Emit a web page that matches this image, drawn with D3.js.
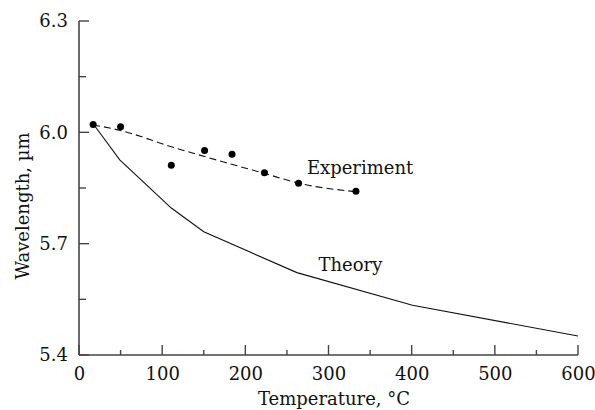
<!DOCTYPE html>
<html>
<head>
<meta charset="utf-8">
<script src="https://cdn.jsdelivr.net/npm/d3@7"></script>
<style>
  body { margin: 0; background: #fff; }
  text { font-family: "DejaVu Serif", serif; fill: #111; }
</style>
</head>
<body>
<div class="chart"></div>
<script>
var svgWidth = 595;
var svgHeight = 410;

var margin = { top: 21, right: 17, bottom: 55, left: 79 };
var width = svgWidth - margin.left - margin.right;
var height = svgHeight - margin.top - margin.bottom;

// measured points (dots)
var expTemp = [17, 50, 111, 151, 184, 223, 264, 333];
var expWave = [6.021, 6.015, 5.911, 5.951, 5.941, 5.891, 5.863, 5.841];

// dashed fit through the experiment
var fitTemp = [17, 50, 110, 174, 222, 264, 333];
var fitWave = [6.02, 6.005, 5.962, 5.92, 5.89, 5.863, 5.84];

// theory curve
var theoryTemp = [19, 49, 111, 150, 262, 401, 600];
var theoryWave = [6.017, 5.926, 5.796, 5.732, 5.622, 5.534, 5.451];

var xTicks = [0, 100, 200, 300, 400, 500, 600];
var xMinor = [50, 150, 250, 350, 450, 550];
var yTicks = [5.4, 5.7, 6.0, 6.3];
var yMinor = [5.55, 5.85, 6.15];

var svg = d3.select(".chart")
    .append("svg")
    .attr("width", svgWidth)
    .attr("height", svgHeight);

var chartGroup = svg.append("g")
    .attr("transform", `translate(${margin.left}, ${margin.top})`);

var x = d3.scaleLinear().domain([0, 600]).range([0, width]);
var y = d3.scaleLinear().domain([5.4, 6.3]).range([height, 0]);

var axisColor = "#444";

// bottom axis, ticks pointing up
var bottomAxis = d3.axisBottom(x).tickValues(xTicks).tickSize(0).tickPadding(12)
    .tickFormat(d3.format("d"));
var gx = chartGroup.append("g")
    .attr("transform", `translate(0, ${height})`)
    .call(bottomAxis);
gx.select(".domain").remove();
gx.selectAll("text").attr("font-size", 18).attr("font-family", "DejaVu Serif").attr("fill", "#111");

var leftAxis = d3.axisLeft(y).tickValues(yTicks).tickSize(0).tickPadding(11)
    .tickFormat(d3.format(".1f"));
var gy = chartGroup.append("g").call(leftAxis);
gy.select(".domain").remove();
gy.selectAll("text").attr("font-size", 18).attr("font-family", "DejaVu Serif").attr("fill", "#111");

// axis lines
chartGroup.append("line")
    .attr("x1", 0).attr("x2", width).attr("y1", height).attr("y2", height)
    .attr("stroke", axisColor).attr("stroke-width", 1.6);
chartGroup.append("line")
    .attr("x1", 0).attr("x2", 0).attr("y1", 0).attr("y2", height)
    .attr("stroke", axisColor).attr("stroke-width", 1.6);

// inward ticks
chartGroup.selectAll(".xmaj").data(xTicks).enter().append("line")
    .attr("x1", d => x(d)).attr("x2", d => x(d))
    .attr("y1", height).attr("y2", height - 10)
    .attr("stroke", axisColor).attr("stroke-width", 1.4);
chartGroup.selectAll(".xmin").data(xMinor).enter().append("line")
    .attr("x1", d => x(d)).attr("x2", d => x(d))
    .attr("y1", height).attr("y2", height - 5)
    .attr("stroke", axisColor).attr("stroke-width", 1.4);
chartGroup.selectAll(".ymaj").data(yTicks).enter().append("line")
    .attr("x1", 0).attr("x2", 10)
    .attr("y1", d => y(d)).attr("y2", d => y(d))
    .attr("stroke", axisColor).attr("stroke-width", 1.4);
chartGroup.selectAll(".ymin").data(yMinor).enter().append("line")
    .attr("x1", 0).attr("x2", 7)
    .attr("y1", d => y(d)).attr("y2", d => y(d))
    .attr("stroke", axisColor).attr("stroke-width", 1.4);

var line = d3.line()
    .x(d => x(d[0]))
    .y(d => y(d[1]));

chartGroup.append("path")
    .datum(d3.zip(theoryTemp, theoryWave))
    .attr("d", line)
    .attr("fill", "none")
    .attr("stroke", "#111")
    .attr("stroke-width", 1.1);

chartGroup.append("path")
    .datum(d3.zip(fitTemp, fitWave))
    .attr("d", line.curve(d3.curveMonotoneX))
    .attr("fill", "none")
    .attr("stroke", "#111")
    .attr("stroke-width", 1.1)
    .attr("stroke-dasharray", "7,4");

chartGroup.selectAll("circle")
    .data(d3.zip(expTemp, expWave))
    .enter()
    .append("circle")
    .attr("cx", d => x(d[0]))
    .attr("cy", d => y(d[1]))
    .attr("r", 3.5)
    .attr("fill", "#000");

chartGroup.append("text")
    .attr("x", x(274))
    .attr("y", y(5.888))
    .attr("font-size", 18)
    .text("Experiment");

chartGroup.append("text")
    .attr("x", x(288))
    .attr("y", y(5.626))
    .attr("font-size", 18)
    .text("Theory");

svg.append("text")
    .attr("x", 334)
    .attr("y", 405)
    .attr("text-anchor", "middle")
    .attr("font-size", 18)
    .text("Temperature, °C");

svg.append("text")
    .attr("transform", "translate(29, 206) rotate(-90)")
    .attr("text-anchor", "middle")
    .attr("font-size", 18)
    .text("Wavelength, µm");
</script>
</body>
</html>
